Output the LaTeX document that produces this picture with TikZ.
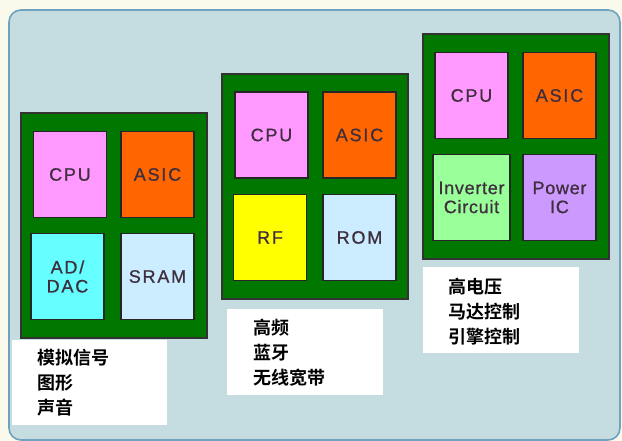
\documentclass[tikz,border=0pt]{standalone}
\usepackage{fontspec}
\setmainfont{Liberation Sans}
\newfontfamily\chipfont[LetterSpace=10,FakeBold=0.8]{Liberation Sans}
\newfontfamily\chipfontn[LetterSpace=4,FakeBold=0.8]{Liberation Sans}
\newfontfamily\cjk{Noto Sans CJK SC}[BoldFont={Noto Sans CJK SC Bold}]
\definecolor{bgcream}{HTML}{F9F9EC}
\definecolor{panelfill}{HTML}{C5DDE1}
\definecolor{panelline}{HTML}{6FA2BE}
\definecolor{boardgreen}{HTML}{007800}
\definecolor{cpupink}{HTML}{FF99FF}
\definecolor{asicorange}{HTML}{FF6600}
\definecolor{adcyan}{HTML}{66FFFF}
\definecolor{memblue}{HTML}{CCECFF}
\definecolor{rfyellow}{HTML}{FFFF00}
\definecolor{invgreen}{HTML}{99FF99}
\definecolor{powerlav}{HTML}{CC99FF}
\definecolor{chiptext}{HTML}{3E2E3E}
\tikzset{
  board/.style={draw=black!80, line width=1.3pt, fill=boardgreen, minimum width=186pt, minimum height=225pt, inner sep=0pt},
  chip/.style={draw=black!85, line width=1.1pt, minimum width=73pt, minimum height=86pt, inner sep=0pt, align=center, text=chiptext, font=\chipfont\fontsize{18}{19}\selectfont},
  chipn/.style={chip, font=\chipfontn\fontsize{18}{19}\selectfont},
  labelbox/.style={fill=white, draw=none, inner sep=0pt},
  labeltext/.style={anchor=west, align=left, inner sep=0pt, font=\cjk\bfseries\fontsize{18}{25}\selectfont}
}
\begin{document}
\begin{tikzpicture}[x=1pt,y=-1pt]
\useasboundingbox (0,0) rectangle (622,441);
\fill[bgcream] (0,0) rectangle (622,441);
\node[draw=panelline, line width=1.6pt, fill=panelfill, rounded corners=12pt, minimum width=611pt, minimum height=430pt, inner sep=0pt] (panel) at (314.5,225) {};
% board 1
\node[board] (b1) at (114,225.5) {};
\node[chip, fill=cpupink] (cpu1) at (70,174.5) {CPU};
\node[chip, fill=asicorange] (asic1) at (157.5,174.5) {ASIC};
\node[chip, fill=adcyan] (addac) at (67.5,276.5) {AD/\\DAC};
\node[chip, fill=memblue] (sram) at (157.5,276.5) {SRAM};
\node[labelbox, minimum width=155pt, minimum height=85pt] (l1) at (89.5,382.5) {};
\node[labeltext] (t1) at (37,383) {模拟信号\\图形\\声音};
% board 2
\node[board] (b2) at (315,186.5) {};
\node[chip, fill=cpupink] (cpu2) at (271.5,135) {CPU};
\node[chip, fill=asicorange] (asic2) at (359.5,135) {ASIC};
\node[chip, fill=rfyellow] (rf) at (270,237.5) {RF};
\node[chip, fill=memblue] (rom) at (359.5,237.5) {ROM};
\node[labelbox, minimum width=156pt, minimum height=86pt] (l2) at (305,352) {};
\node[labeltext] (t2) at (253,353) {高频\\蓝牙\\无线宽带};
% board 3
\node[board] (b3) at (516,146.5) {};
\node[chip, fill=cpupink] (cpu3) at (471.5,95.5) {CPU};
\node[chip, fill=asicorange] (asic3) at (559.5,95.5) {ASIC};
\node[chipn, fill=invgreen, minimum width=77pt] (inv) at (471.5,197.5) {Inverter\\Circuit};
\node[chipn, fill=powerlav] (pic) at (559.5,197.5) {Power\\IC};
\node[labelbox, minimum width=156pt, minimum height=86pt] (l3) at (501,310) {};
\node[labeltext] (t3) at (448,312) {高电压\\马达控制\\引擎控制};
\end{tikzpicture}
\end{document}
